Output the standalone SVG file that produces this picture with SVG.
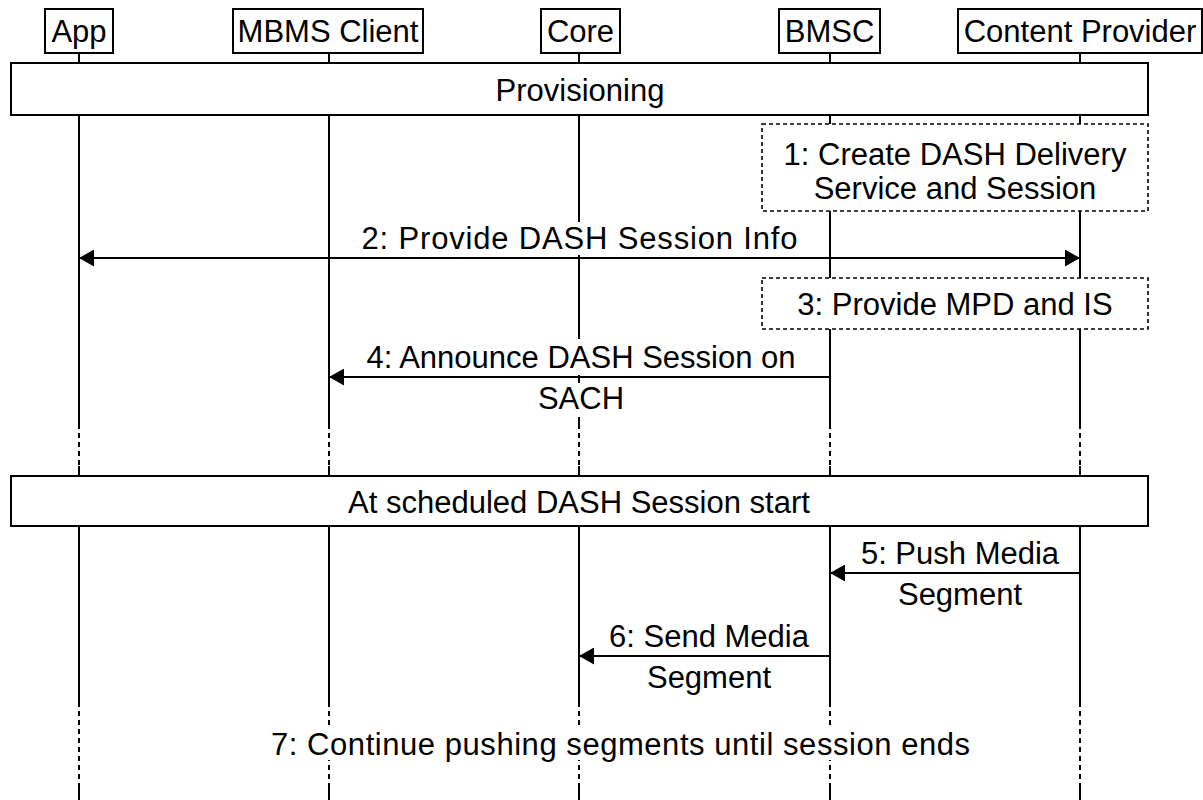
<svg xmlns="http://www.w3.org/2000/svg" width="1203" height="800" viewBox="0 0 1203 800">
<style>
.box{fill:#fff;stroke:#000;stroke-width:2}
.dbox{fill:#fff;stroke:#000;stroke-width:1.6;stroke-dasharray:4 3}
.life{stroke:#000;stroke-width:2;fill:none}
.dash{stroke-dasharray:5 4}
text{font-family:"Liberation Sans",Arial,sans-serif;font-size:31px;fill:#000;text-anchor:middle}
.msg{stroke:#000;stroke-width:2;fill:none}
.bg{fill:#fff}
</style>
<defs>
<marker id="ah" markerUnits="userSpaceOnUse" markerWidth="16" markerHeight="17" refX="15" refY="8.5" orient="auto-start-reverse">
<path d="M0,0 L15,8.5 L0,17 z" fill="#000"/>
</marker>
</defs>
<rect width="1203" height="800" fill="#fff"/>

<g id="app">
<path class="life" d="M79,53 V424 M79,466 V702 M79,787 V800"/>
<path class="life dash" d="M79,424 V466 M79,702 V787"/>
<rect class="box" x="45" y="9" width="68" height="44"/>
<text x="79" y="42">App</text>
</g>
<g id="mbms">
<path class="life" d="M329,53 V424 M329,466 V702 M329,787 V800"/>
<path class="life dash" d="M329,424 V466 M329,702 V787"/>
<rect class="box" x="233" y="9" width="190" height="44"/>
<text x="328" y="42">MBMS Client</text>
</g>
<g id="core">
<path class="life" d="M579,53 V424 M579,466 V702 M579,787 V800"/>
<path class="life dash" d="M579,424 V466 M579,702 V787"/>
<rect class="box" x="541" y="9" width="79" height="44"/>
<text x="580.5" y="42">Core</text>
</g>
<g id="bmsc">
<path class="life" d="M830,53 V424 M830,466 V702 M830,787 V800"/>
<path class="life dash" d="M830,424 V466 M830,702 V787"/>
<rect class="box" x="779" y="9" width="101" height="44"/>
<text x="829.5" y="42">BMSC</text>
</g>
<g id="cp">
<path class="life" d="M1080,53 V424 M1080,466 V702 M1080,787 V800"/>
<path class="life dash" d="M1080,424 V466 M1080,702 V787"/>
<rect class="box" x="958" y="9" width="244" height="44"/>
<text x="1080" y="42">Content Provider</text>
</g>

<g id="provisioning">
<rect class="box" x="11" y="63" width="1137" height="52"/>
<text x="580" y="101">Provisioning</text>
</g>
<g id="step1">
<rect class="dbox" x="762" y="124" width="386" height="87"/>
<text x="955" y="165">1: Create DASH Delivery</text>
<text x="955" y="199">Service and Session</text>
</g>
<g id="step3">
<rect class="dbox" x="762" y="278" width="386" height="51"/>
<text x="955" y="315">3: Provide MPD and IS</text>
</g>
<g id="scheduled">
<rect class="box" x="11" y="476" width="1137" height="50"/>
<text x="579" y="513">At scheduled DASH Session start</text>
</g>
<g id="step7">
<rect class="bg" x="266" y="725" width="710" height="35"/>
<text x="620.5" y="755" textLength="699">7: Continue pushing segments until session ends</text>
</g>

<g id="connectors">
<g id="msg2">
<rect class="bg" x="358" y="222" width="442" height="33"/>
<line class="msg" x1="1080" y1="258" x2="79" y2="258" marker-start="url(#ah)" marker-end="url(#ah)"/>
<text x="579.5" y="249" textLength="436">2: Provide DASH Session Info</text>
</g>
<g id="msg4">
<rect class="bg" x="368" y="339" width="432" height="36"/>
<rect class="bg" x="538" y="383" width="84" height="34"/>
<line class="msg" x1="830" y1="377" x2="329" y2="377" marker-end="url(#ah)"/>
<text x="581" y="368">4: Announce DASH Session on</text>
<text x="581" y="409">SACH</text>
</g>
<g id="msg5">
<line class="msg" x1="1080" y1="573" x2="830" y2="573" marker-end="url(#ah)"/>
<text x="960" y="564">5: Push Media</text>
<text x="960" y="605">Segment</text>
</g>
<g id="msg6">
<line class="msg" x1="830" y1="656" x2="579" y2="656" marker-end="url(#ah)"/>
<text x="709" y="647">6: Send Media</text>
<text x="709" y="688">Segment</text>
</g>
</g>
</svg>
